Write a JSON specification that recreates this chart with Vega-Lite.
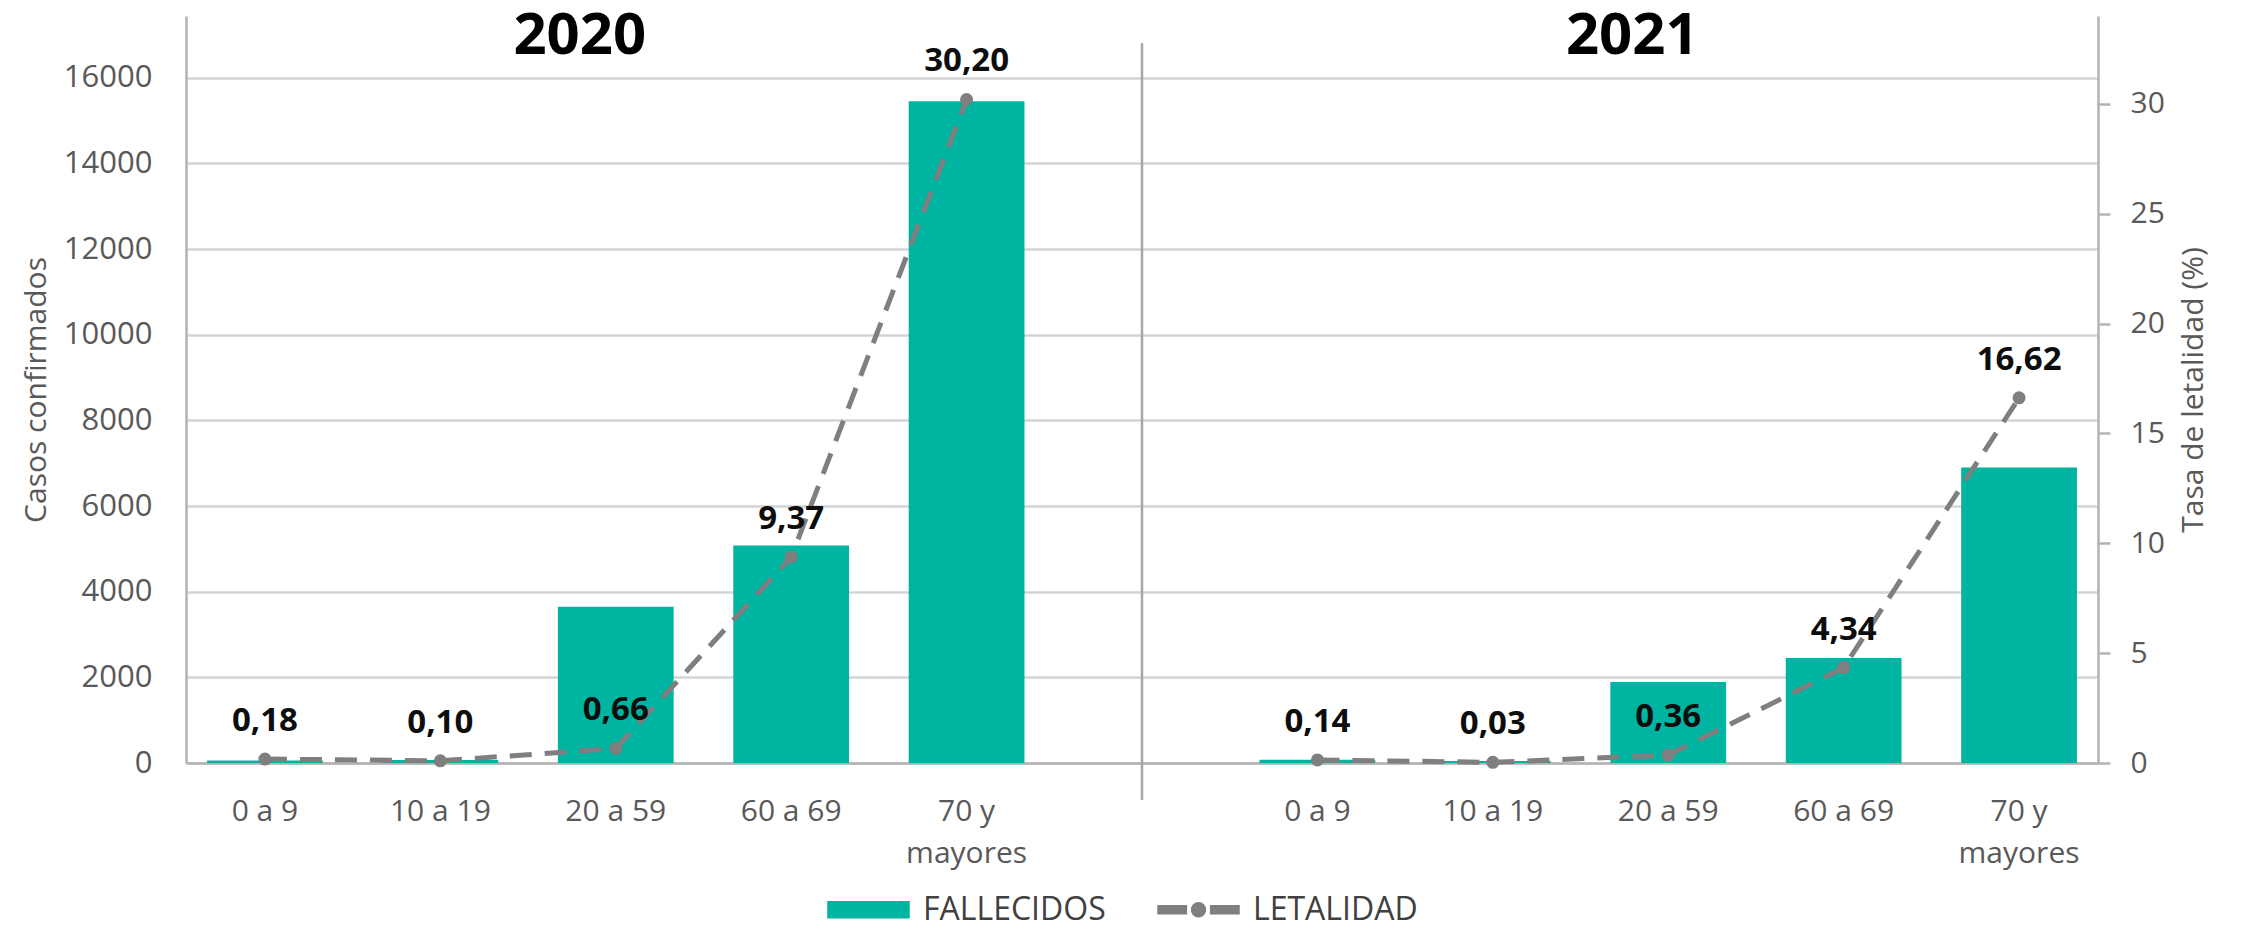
{
  "$schema": "https://vega.github.io/schema/vega-lite/v6.json",
  "width": 1912,
  "height": 747,
  "autosize": {"type": "none"},
  "padding": {"left": 186, "top": 16, "right": 144, "bottom": 169},
  "config": {
    "font": "Open Sans",
    "view": {"stroke": null},
    "locale": {
      "number": {"decimal": ",", "thousands": ".", "grouping": [3], "currency": ["", ""]}
    },
    "axis": {
      "labelColor": "#595959",
      "titleColor": "#595959",
      "labelFontSize": 30,
      "titleFontSize": 30,
      "titleFontWeight": "normal",
      "domainColor": "#b3b3b3",
      "domainWidth": 2.5,
      "gridColor": "#d4d4d4",
      "gridWidth": 2.5,
      "tickColor": "#b3b3b3",
      "tickWidth": 2.5
    }
  },
  "datasets": {
    "edades": [
      {"anio": "2020", "key": "2020|0 a 9", "fallecidos": 60, "tasa": 0.18},
      {"anio": "2020", "key": "2020|10 a 19", "fallecidos": 70, "tasa": 0.10},
      {"anio": "2020", "key": "2020|20 a 59", "fallecidos": 3650, "tasa": 0.66},
      {"anio": "2020", "key": "2020|60 a 69", "fallecidos": 5080, "tasa": 9.37},
      {"anio": "2020", "key": "2020|70 y|mayores", "fallecidos": 15450, "tasa": 30.20},
      {"anio": "2021", "key": "2021|0 a 9", "fallecidos": 75, "tasa": 0.14},
      {"anio": "2021", "key": "2021|10 a 19", "fallecidos": 45, "tasa": 0.03},
      {"anio": "2021", "key": "2021|20 a 59", "fallecidos": 1890, "tasa": 0.36},
      {"anio": "2021", "key": "2021|60 a 69", "fallecidos": 2450, "tasa": 4.34},
      {"anio": "2021", "key": "2021|70 y|mayores", "fallecidos": 6900, "tasa": 16.62}
    ],
    "titulos": [
      {"anio": "2020", "key": "2020|20 a 59", "alto": 16950},
      {"anio": "2021", "key": "2021|20 a 59", "alto": 16950}
    ],
    "divisor": [
      {"key": "gap", "desde": 16810, "hasta": -864}
    ]
  },
  "encoding": {
    "x": {
      "field": "key",
      "type": "nominal",
      "scale": {
        "domain": [
          "2020|0 a 9", "2020|10 a 19", "2020|20 a 59", "2020|60 a 69", "2020|70 y|mayores",
          "gap",
          "2021|0 a 9", "2021|10 a 19", "2021|20 a 59", "2021|60 a 69", "2021|70 y|mayores"
        ],
        "paddingInner": 0.34,
        "paddingOuter": 0.12
      },
      "axis": {
        "title": null,
        "labelExpr": "datum.value == 'gap' ? '' : slice(split(datum.value, '|'), 1)",
        "ticks": false,
        "labelAngle": 0,
        "labelPadding": 33,
        "labelLineHeight": 42,
        "labelBaseline": "top",
        "grid": false
      }
    }
  },
  "layer": [
    {
      "layer": [
        {
          "data": {"name": "edades"},
          "mark": {"type": "bar"},
          "encoding": {
            "y": {
              "field": "fallecidos",
              "type": "quantitative",
              "scale": {"domain": [0, 17440], "nice": false},
              "axis": {
                "title": "Casos confirmados",
                "values": [0, 2000, 4000, 6000, 8000, 10000, 12000, 14000, 16000],
                "format": "d",
                "ticks": false,
                "labelPadding": 34,
                "labelFontSize": 31,
                "titlePadding": 12,
                "grid": true
              }
            },
            "color": {
              "datum": "FALLECIDOS",
              "type": "nominal",
              "scale": {"domain": ["FALLECIDOS", "LETALIDAD"], "range": ["#00b4a2", "#7f7f7f"]},
              "legend": {
                "orient": "none",
                "legendX": 641,
                "legendY": 852,
                "direction": "horizontal",
                "title": null,
                "labelFontSize": 32,
                "labelColor": "#404040",
                "labelLimit": 0,
                "symbolSize": 6561,
                "labelOffset": 13,
                "columnPadding": 49,
                "encode": {
                  "symbols": {
                    "update": {
                      "shape": {"signal": "datum.value === 'FALLECIDOS' ? 'M-1,-0.2H1V0.2H-1Z' : 'M-1,-0.1H-0.3V0.1H-1Z M0.3,-0.1H1V0.1H0.3Z M0.17,0A0.17,0.17 0 1 1 -0.17,0A0.17,0.17 0 1 1 0.17,0Z'"},
                      "fill": {"scale": "color", "field": "value"},
                      "stroke": {"value": "transparent"},
                      "opacity": {"value": 1}
                    }
                  }
                }
              }
            }
          }
        },
        {
          "data": {"name": "divisor"},
          "mark": {"type": "rule", "color": "#a6a6a6", "strokeWidth": 2.5},
          "encoding": {
            "y": {"field": "desde", "type": "quantitative", "scale": {"domain": [0, 17440], "nice": false}},
            "y2": {"field": "hasta"}
          }
        },
        {
          "data": {"name": "titulos"},
          "mark": {"type": "text", "fontSize": 58, "fontWeight": "bold", "color": "#000000", "dx": -36, "baseline": "middle"},
          "encoding": {
            "y": {"field": "alto", "type": "quantitative", "scale": {"domain": [0, 17440], "nice": false}},
            "text": {"field": "anio"}
          }
        }
      ]
    },
    {
      "layer": [
        {
          "data": {"name": "edades"},
          "mark": {"type": "line", "strokeDash": [22, 13], "strokeWidth": 5},
          "encoding": {
            "y": {
              "field": "tasa",
              "type": "quantitative",
              "scale": {"domain": [0, 34], "nice": false},
              "axis": {
                "orient": "right",
                "title": "Tasa de letalidad (%)",
                "values": [0, 5, 10, 15, 20, 25, 30],
                "grid": false,
                "ticks": true,
                "tickSize": 12,
                "labelPadding": 20,
                "titleAngle": 270,
                "titleBaseline": "top",
                "titlePadding": 14
              }
            },
            "detail": {"field": "anio"},
            "color": {"datum": "LETALIDAD", "type": "nominal"}
          }
        },
        {
          "data": {"name": "edades"},
          "mark": {"type": "circle", "size": 170, "opacity": 1},
          "encoding": {
            "y": {"field": "tasa", "type": "quantitative", "scale": {"domain": [0, 34], "nice": false}},
            "color": {"datum": "LETALIDAD", "type": "nominal"}
          }
        },
        {
          "data": {"name": "edades"},
          "mark": {"type": "text", "fontSize": 33, "fontWeight": "bold", "color": "#0d0d0d", "dy": -28, "baseline": "alphabetic"},
          "encoding": {
            "y": {"field": "tasa", "type": "quantitative", "scale": {"domain": [0, 34], "nice": false}},
            "text": {"field": "tasa", "type": "quantitative", "format": ".2f"}
          }
        }
      ]
    }
  ],
  "resolve": {"scale": {"y": "independent"}}
}
